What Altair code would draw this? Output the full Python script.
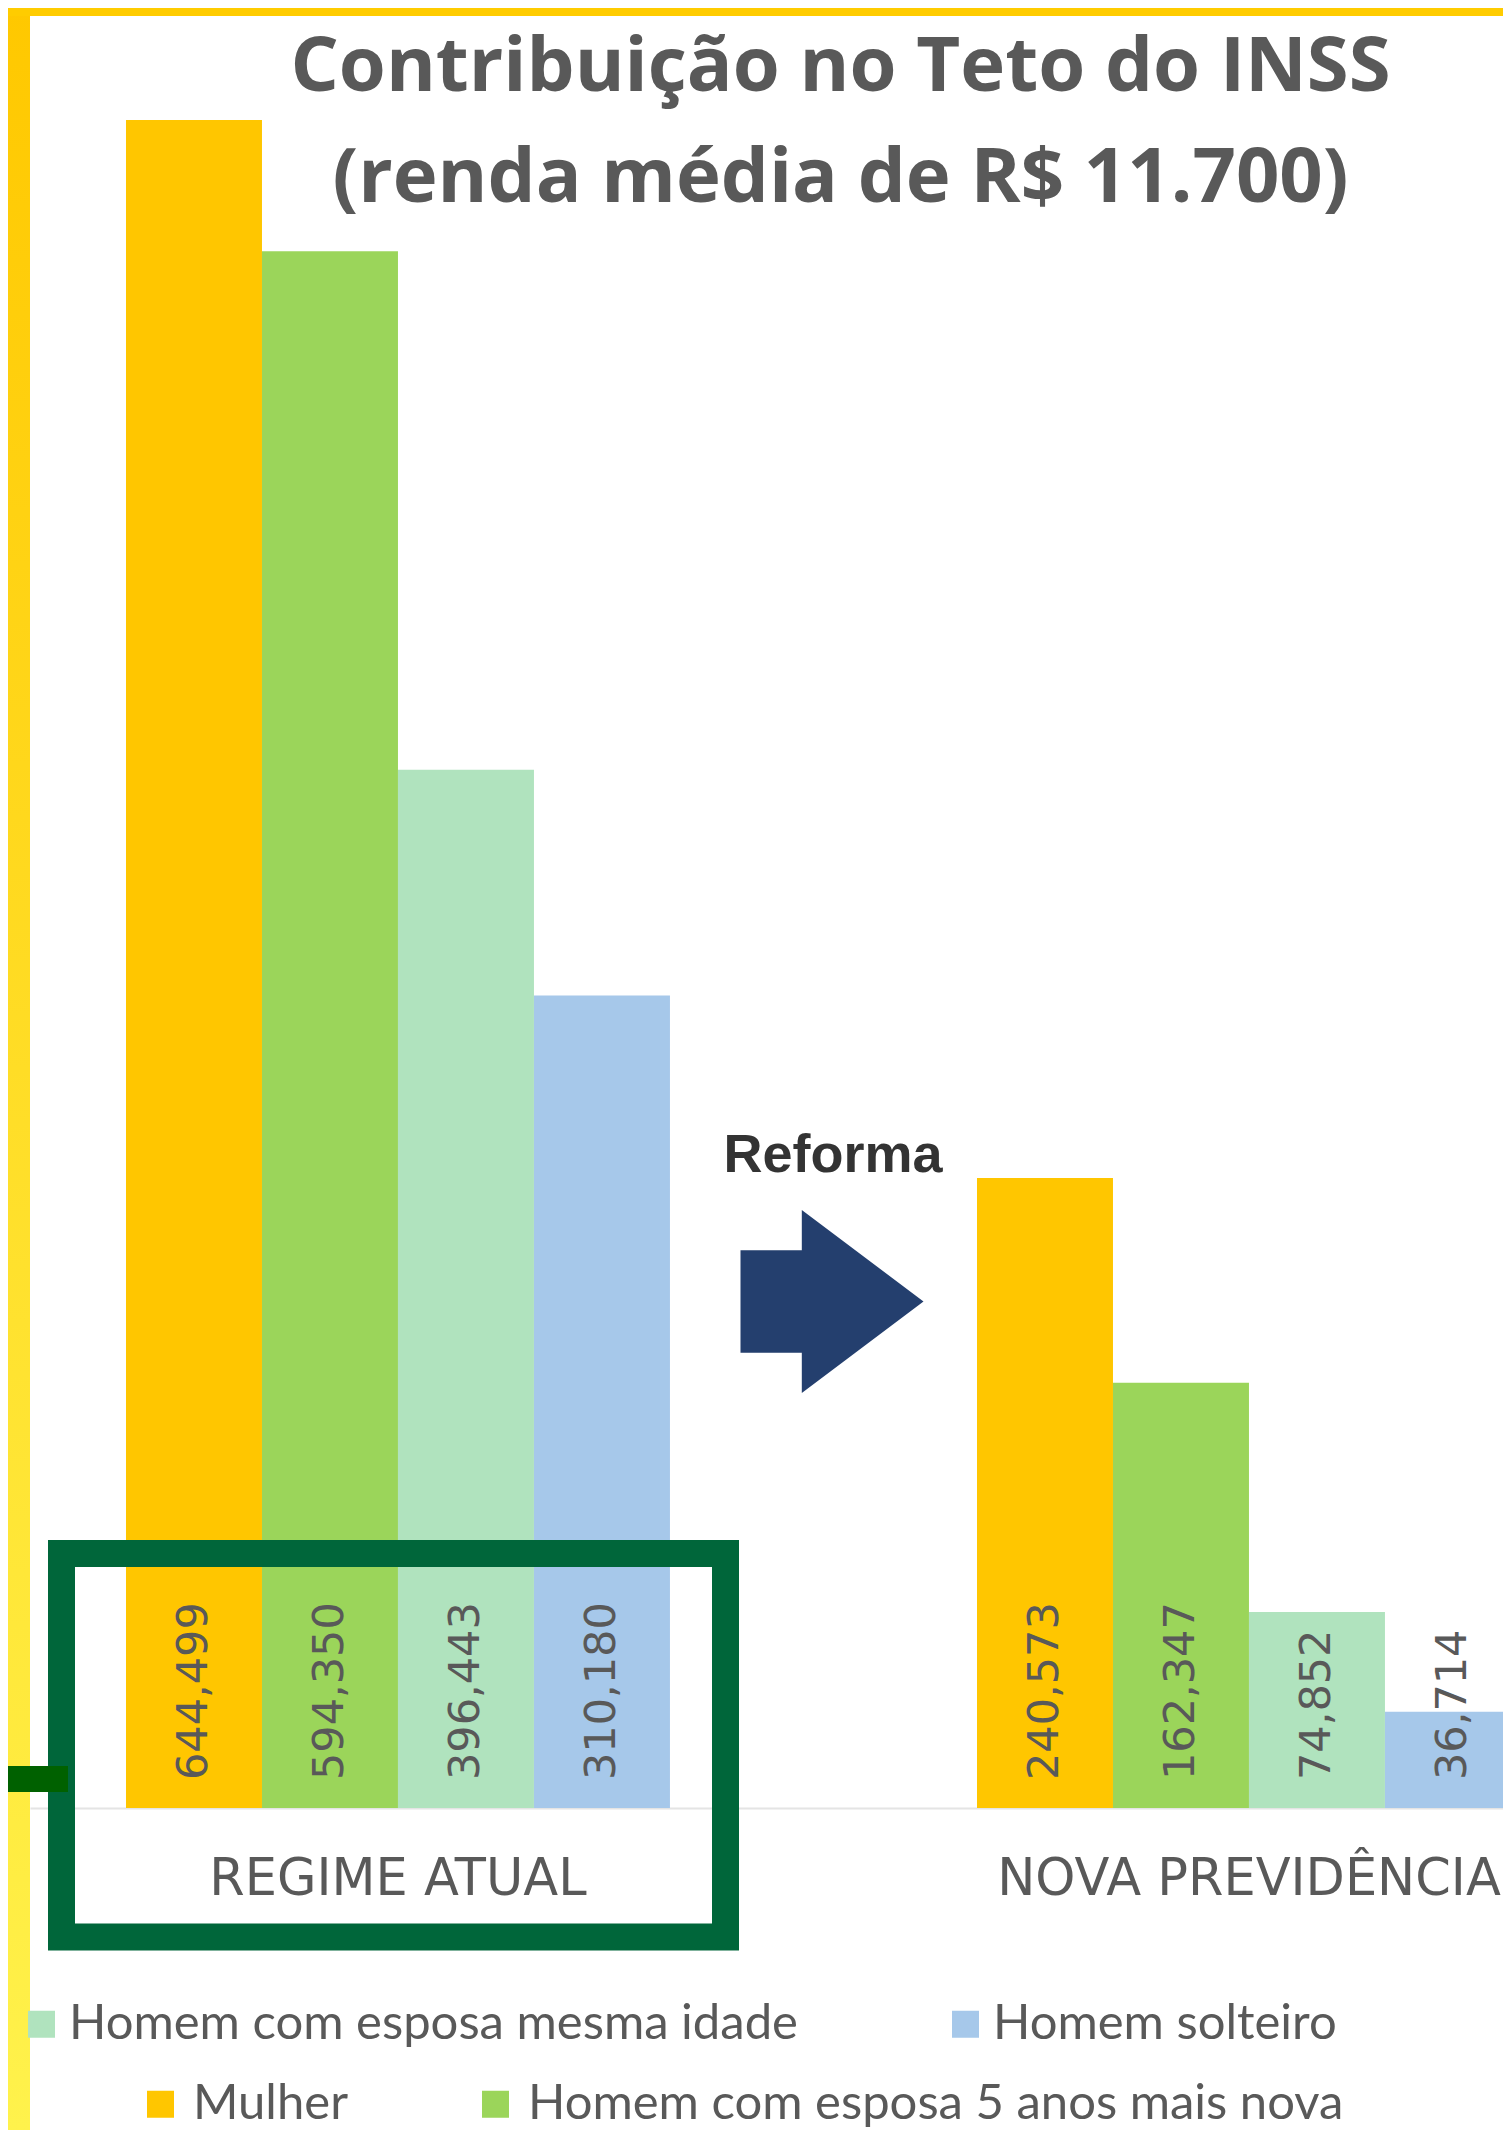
import altair as alt
import pandas as pd

# ---------------- data ----------------
groups = ["REGIME ATUAL", "NOVA PREVIDÊNCIA"]
series = [
    "Mulher",
    "Homem com esposa 5 anos mais nova",
    "Homem com esposa mesma idade",
    "Homem solteiro",
]
colors = ["#FFC600", "#9BD55A", "#B0E3BE", "#A6C8EA"]
regime_atual = [644499, 594350, 396443, 310180]
nova_previdencia = [240573, 162347, 74852, 36714]

title_text = "Contribuição no Teto do INSS"
subtitle_text = "(renda média de R$ 11.700)"
annotation = ["Reforma"]

rows = []
for g, vals in zip(groups, [regime_atual, nova_previdencia]):
    for s, v in zip(series, vals):
        rows.append({"group": g, "series": s, "value": v})
df = pd.DataFrame(rows)
one = pd.DataFrame({"k": [0]})

# ---------------- layout ----------------
W, H = 1473, 1688
PAD = {"left": 22, "top": 112, "right": 0, "bottom": 322}
STEP = 851
P_IN = 0.3608
P_OUT = 0.1128
X_RANGE = STEP * (len(groups) - P_IN + 2 * P_OUT)
GRAY = "#595959"

x_enc = alt.X(
    "group:N",
    sort=groups,
    scale=alt.Scale(domain=groups, range=[0, X_RANGE], paddingInner=P_IN, paddingOuter=P_OUT),
    axis=alt.Axis(
        title=None, ticks=False, tickSize=0, domainColor="#E4E4E4", domainWidth=2,
        labelFont="DejaVu Sans", labelFontSize=51, labelColor=GRAY, labelPadding=46,
        labelAngle=0, labelLimit=1000,
    ),
)
xoff = alt.XOffset("series:N", sort=series,
                   scale=alt.Scale(domain=series, paddingInner=0, paddingOuter=0))
y_scale = alt.Scale(domain=[0, max(regime_atual + nova_previdencia)], nice=False, zero=True)


def legend(x, y, pad, off):
    return alt.Legend(
        title=None, orient="none", legendX=x, legendY=y, direction="horizontal",
        symbolType="square", symbolSize=729, symbolStrokeWidth=0, symbolOpacity=1,
        labelFont="Lato", labelFontSize=49, labelColor=GRAY, labelOffset=off,
        columnPadding=pad, padding=0, labelLimit=1000,
    )


bars_a = alt.Chart(df).transform_filter(
    alt.FieldOneOfPredicate(field="series", oneOf=series[:2])
).mark_bar(strokeWidth=0).encode(
    x=x_enc, xOffset=xoff,
    y=alt.Y("value:Q", scale=y_scale, axis=None),
    color=alt.Color("series:N", scale=alt.Scale(domain=series[:2], range=colors[:2]),
                    legend=legend(106, 1959.5, 123, 8)),
)

bars_b = alt.Chart(df).transform_filter(
    alt.FieldOneOfPredicate(field="series", oneOf=series[2:])
).mark_bar(strokeWidth=0).encode(
    x=x_enc, xOffset=xoff,
    y=alt.Y("value:Q", scale=y_scale, axis=None),
    color=alt.Color("series:N", scale=alt.Scale(domain=series[2:], range=colors[2:]),
                    legend=legend(-13, 1879.5, 143, 3)),
)

labels = alt.Chart(df).transform_calculate(base="0").mark_text(
    angle=270, align="left", baseline="middle", dx=28,
    font="DejaVu Sans", fontSize=43, color=GRAY,
).encode(
    x=x_enc, xOffset=xoff,
    y=alt.Y("base:Q", scale=y_scale, axis=None),
    text=alt.Text("value:Q", format=",d"),
)

# ---------------- decorations ----------------
left_strip = alt.Chart(one).mark_rect(
    fill={"gradient": "linear", "x1": 0, "y1": 0, "x2": 0, "y2": 1,
          "stops": [{"offset": 0, "color": "#FFC800"}, {"offset": 1, "color": "#FFF24C"}]}
).encode(x=alt.value(-22), x2=alt.value(0), y=alt.value(-112), y2=alt.value(H + 322))

top_strip = alt.Chart(one).mark_rect(color="#FFCC00").encode(
    x=alt.value(-22), x2=alt.value(W), y=alt.value(-112), y2=alt.value(-104))

box = alt.Chart(one).mark_rect(filled=False, stroke="#00663A", strokeWidth=27).encode(
    x=alt.value(31.5), x2=alt.value(695.5), y=alt.value(1433.5), y2=alt.value(1817))

connector = alt.Chart(one).mark_rect(color="#006100").encode(
    x=alt.value(-22), x2=alt.value(38), y=alt.value(1646), y2=alt.value(1672))

reforma = alt.Chart(pd.DataFrame({"t": annotation})).mark_text(
    font="Liberation Sans", fontWeight="bold", fontSize=54, color="#333333",
    align="center", baseline="alphabetic",
).encode(x=alt.value(803), y=alt.value(1052), text="t:N")

arrow = alt.Chart(one).mark_point(
    shape="M-1,-0.56L-0.33,-0.56L-0.33,-1L1,0L-0.33,1L-0.33,0.56L-1,0.56Z",
    filled=True, fill="#243F6E", size=33489, opacity=1, strokeWidth=0,
).encode(x=alt.value(802), y=alt.value(1181.5))

title = alt.TitleParams(
    text=title_text, subtitle=subtitle_text,
    font="Open Sans", fontSize=76, fontWeight="bold", color=GRAY,
    subtitleFont="Open Sans", subtitleFontSize=76, subtitleFontWeight="bold",
    subtitleColor=GRAY, subtitlePadding=35,
    anchor="middle", frame="group", offset=0, dx=74, dy=210,
)

chart = alt.layer(
    left_strip, top_strip, bars_a, bars_b, labels, box, connector, reforma, arrow
).resolve_scale(color="independent").properties(
    width=W, height=H, padding=PAD,
    autosize=alt.AutoSizeParams(type="none"),
    background="white", title=title,
).configure_view(strokeWidth=0)

chart.save("out.html", embed_options={"renderer": "svg", "actions": False})
